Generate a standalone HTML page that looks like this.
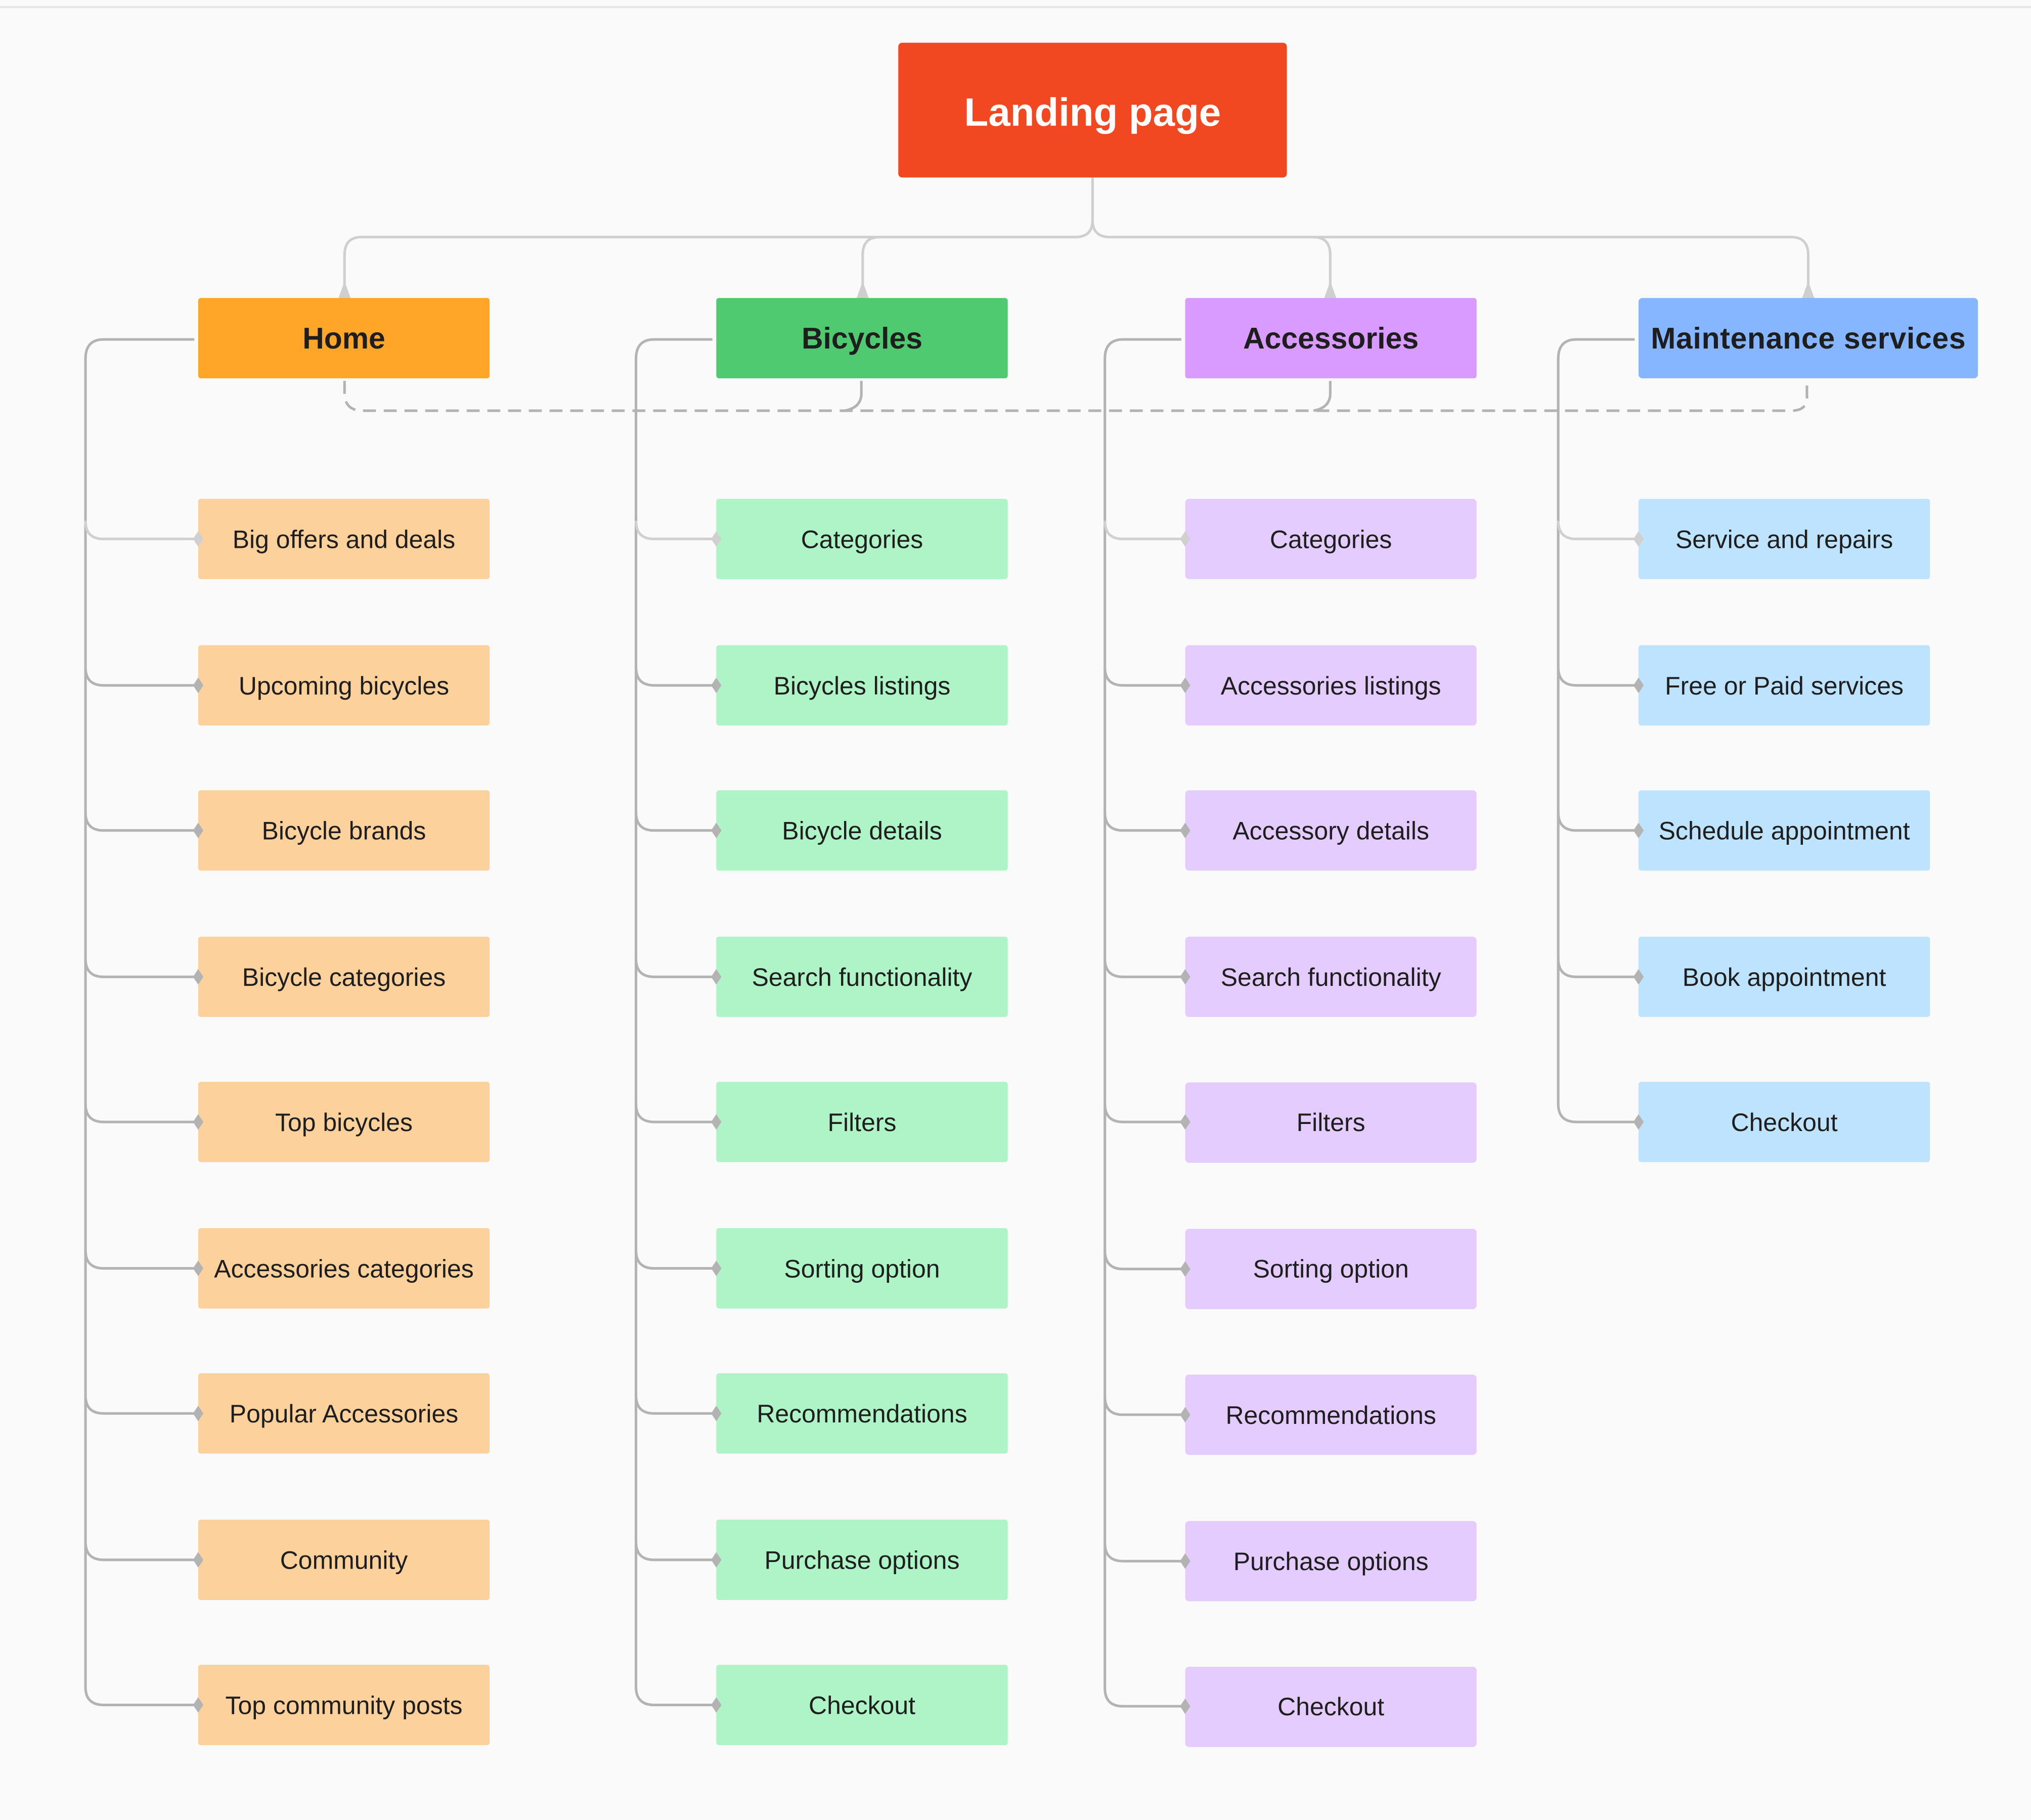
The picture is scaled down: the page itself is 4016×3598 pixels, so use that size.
<!DOCTYPE html>
<html><head><meta charset="utf-8"><style>
html,body{margin:0;padding:0;background:#fafafa;}
svg{display:block;}
text{font-family:"Liberation Sans",sans-serif;fill:#1e1e1e;}
.c{font-size:19.5px;}
.h{font-size:23px;font-weight:bold;}
</style></head><body>
<svg width="4016" height="3598" viewBox="0 0 1568 1404.8" preserveAspectRatio="none" xmlns="http://www.w3.org/2000/svg">
<rect x="0" y="0" width="1568" height="1405" fill="#fafafa"/>
<line x1="0" y1="5.5" x2="1568" y2="5.5" stroke="#e6e6e6" stroke-width="1.5"/>

<!-- top connectors -->
<g fill="none" stroke="#cfcfcf" stroke-width="2">
<path d="M843.5,137 V170 Q843.5,183 830,183 H279 Q266,183 266,197 V226"/>
<path d="M843.5,170 Q843.5,183 857,183 H1383 Q1396,183 1396,197 V226"/>
<path d="M679,183 Q666,183 666,197 V226"/>
<path d="M1014,183 Q1027,183 1027,197 V226"/>
</g>
<g fill="#cfcfcf">
<path d="M266,217 L261,231 H271 Z"/><path d="M666,217 L661,231 H671 Z"/>
<path d="M1027,217 L1022,231 H1032 Z"/><path d="M1396,217 L1391,231 H1401 Z"/>
</g>

<!-- dashed -->
<g fill="none" stroke="#b3b3b3" stroke-width="2">
<path d="M266,294 V305 Q267,317 280,317 H1383 Q1396,317 1395,305 V294" stroke-dasharray="10,6"/>
<path d="M665,294 V305 Q664,315 652,317"/>
<path d="M1027,294 V305 Q1026,315 1014,317"/>
</g>

<!-- Landing -->
<rect x="693.5" y="33" width="300" height="104" rx="3" fill="#f24822"/>
<text x="843.5" y="97" text-anchor="middle" style="font-size:30.5px;font-weight:bold;fill:#fff">Landing page</text>

<!-- Level 1 -->
<rect x="153" y="230" width="225" height="62" rx="2" fill="#ffa629"/>
<text class="h" x="265.5" y="269" text-anchor="middle">Home</text>
<rect x="553" y="230" width="225" height="62" rx="2" fill="#4fca71"/>
<text class="h" x="665.5" y="269" text-anchor="middle">Bicycles</text>
<rect x="915" y="230" width="225" height="62" rx="2" fill="#d99bff"/>
<text class="h" x="1027.5" y="269" text-anchor="middle">Accessories</text>
<rect x="1265" y="230" width="262" height="62" rx="3" fill="#85b6ff"/>
<text class="h" x="1396" y="269" text-anchor="middle" textLength="243">Maintenance services</text>

<!-- spines -->
<g fill="none" stroke="#b3b3b3" stroke-width="2">
<path d="M150,262 H80 Q66,262 66,277 V1302 Q66,1316 80,1316 H153"/>
<path d="M550,262 H505 Q491,262 491,277 V1302 Q491,1316 505,1316 H553"/>
<path d="M912,262 H867 Q853,262 853,277 V1303 Q853,1317 867,1317 H915"/>
<path d="M1262,262 H1217 Q1203,262 1203,277 V852 Q1203,866 1217,866 H1265"/>
</g>

<!-- Home children -->
<g fill="none" stroke="#b3b3b3" stroke-width="2">
<path d="M66,402 Q66,416 80,416 H153" stroke="#d0d0d0"/>
<path d="M66,515 Q66,529 80,529 H153"/><path d="M66,627 Q66,641 80,641 H153"/>
<path d="M66,740 Q66,754 80,754 H153"/><path d="M66,852 Q66,866 80,866 H153"/>
<path d="M66,965 Q66,979 80,979 H153"/><path d="M66,1077 Q66,1091 80,1091 H153"/>
<path d="M66,1190 Q66,1204 80,1204 H153"/>
<path d="M491,402 Q491,416 505,416 H553" stroke="#d0d0d0"/>
<path d="M491,515 Q491,529 505,529 H553"/><path d="M491,627 Q491,641 505,641 H553"/>
<path d="M491,740 Q491,754 505,754 H553"/><path d="M491,852 Q491,866 505,866 H553"/>
<path d="M491,965 Q491,979 505,979 H553"/><path d="M491,1077 Q491,1091 505,1091 H553"/>
<path d="M491,1190 Q491,1204 505,1204 H553"/>
<path d="M853,402 Q853,416 867,416 H915" stroke="#d0d0d0"/>
<path d="M853,515 Q853,529 867,529 H915"/><path d="M853,627 Q853,641 867,641 H915"/>
<path d="M853,740 Q853,754 867,754 H915"/><path d="M853,852 Q853,866 867,866 H915"/>
<path d="M853,965 Q853,979.5 867,979.5 H915"/><path d="M853,1078 Q853,1092 867,1092 H915"/>
<path d="M853,1191 Q853,1205 867,1205 H915"/>
<path d="M1203,402 Q1203,416 1217,416 H1265" stroke="#d0d0d0"/>
<path d="M1203,515 Q1203,529 1217,529 H1265"/><path d="M1203,627 Q1203,641 1217,641 H1265"/>
<path d="M1203,740 Q1203,754 1217,754 H1265"/>
</g>

<g class="c" text-anchor="middle">
<!-- Home -->
<g fill="#fcd19c">
<rect x="153" y="385" width="225" height="62" rx="2"/><rect x="153" y="498" width="225" height="62" rx="2"/>
<rect x="153" y="610" width="225" height="62" rx="2"/><rect x="153" y="723" width="225" height="62" rx="2"/>
<rect x="153" y="835" width="225" height="62" rx="2"/><rect x="153" y="948" width="225" height="62" rx="2"/>
<rect x="153" y="1060" width="225" height="62" rx="2"/><rect x="153" y="1173" width="225" height="62" rx="2"/>
<rect x="153" y="1285" width="225" height="62" rx="2"/>
</g>
<text x="265.5" y="423">Big offers and deals</text>
<text x="265.5" y="536">Upcoming bicycles</text>
<text x="265.5" y="648">Bicycle brands</text>
<text x="265.5" y="761">Bicycle categories</text>
<text x="265.5" y="873">Top bicycles</text>
<text x="265.5" y="986">Accessories categories</text>
<text x="265.5" y="1098">Popular Accessories</text>
<text x="265.5" y="1211">Community</text>
<text x="265.5" y="1323">Top community posts</text>
<!-- Bicycles -->
<g fill="#affbc9" style="fill:#aff4c6">
<rect x="553" y="385" width="225" height="62" rx="2"/><rect x="553" y="498" width="225" height="62" rx="2"/>
<rect x="553" y="610" width="225" height="62" rx="2"/><rect x="553" y="723" width="225" height="62" rx="2"/>
<rect x="553" y="835" width="225" height="62" rx="2"/><rect x="553" y="948" width="225" height="62" rx="2"/>
<rect x="553" y="1060" width="225" height="62" rx="2"/><rect x="553" y="1173" width="225" height="62" rx="2"/>
<rect x="553" y="1285" width="225" height="62" rx="2"/>
</g>
<text x="665.5" y="423">Categories</text>
<text x="665.5" y="536">Bicycles listings</text>
<text x="665.5" y="648">Bicycle details</text>
<text x="665.5" y="761">Search functionality</text>
<text x="665.5" y="873">Filters</text>
<text x="665.5" y="986">Sorting option</text>
<text x="665.5" y="1098">Recommendations</text>
<text x="665.5" y="1211">Purchase options</text>
<text x="665.5" y="1323">Checkout</text>
<!-- Accessories -->
<g style="fill:#e4ccff">
<rect x="915" y="385" width="225" height="62" rx="3"/><rect x="915" y="498" width="225" height="62" rx="3"/>
<rect x="915" y="610" width="225" height="62" rx="3"/><rect x="915" y="723" width="225" height="62" rx="3"/>
<rect x="915" y="835.5" width="225" height="62" rx="3"/><rect x="915" y="948.5" width="225" height="62" rx="3"/>
<rect x="915" y="1061" width="225" height="62" rx="3"/><rect x="915" y="1174" width="225" height="62" rx="3"/>
<rect x="915" y="1286.5" width="225" height="62" rx="3"/>
</g>
<text x="1027.5" y="423">Categories</text>
<text x="1027.5" y="536">Accessories listings</text>
<text x="1027.5" y="648">Accessory details</text>
<text x="1027.5" y="761">Search functionality</text>
<text x="1027.5" y="873">Filters</text>
<text x="1027.5" y="986">Sorting option</text>
<text x="1027.5" y="1099">Recommendations</text>
<text x="1027.5" y="1212">Purchase options</text>
<text x="1027.5" y="1324">Checkout</text>
<!-- Maintenance -->
<g style="fill:#bde3ff">
<rect x="1265" y="385" width="225" height="62" rx="2"/><rect x="1265" y="498" width="225" height="62" rx="2"/>
<rect x="1265" y="610" width="225" height="62" rx="2"/><rect x="1265" y="723" width="225" height="62" rx="2"/>
<rect x="1265" y="835" width="225" height="62" rx="2"/>
</g>
<text x="1377.5" y="423">Service and repairs</text>
<text x="1377.5" y="536">Free or Paid services</text>
<text x="1377.5" y="648">Schedule appointment</text>
<text x="1377.5" y="761">Book appointment</text>
<text x="1377.5" y="873">Checkout</text>
</g>

<!-- diamonds -->
<g fill="#b3b3b3">
<path d="M153,410 l-4,6 4,6 4,-6z" fill="#d0d0d0"/>
<path d="M153,523 l-4,6 4,6 4,-6z"/><path d="M153,635 l-4,6 4,6 4,-6z"/>
<path d="M153,748 l-4,6 4,6 4,-6z"/><path d="M153,860 l-4,6 4,6 4,-6z"/>
<path d="M153,973 l-4,6 4,6 4,-6z"/><path d="M153,1085 l-4,6 4,6 4,-6z"/>
<path d="M153,1198 l-4,6 4,6 4,-6z"/><path d="M153,1310 l-4,6 4,6 4,-6z"/>
<path d="M553,410 l-4,6 4,6 4,-6z" fill="#d0d0d0"/>
<path d="M553,523 l-4,6 4,6 4,-6z"/><path d="M553,635 l-4,6 4,6 4,-6z"/>
<path d="M553,748 l-4,6 4,6 4,-6z"/><path d="M553,860 l-4,6 4,6 4,-6z"/>
<path d="M553,973 l-4,6 4,6 4,-6z"/><path d="M553,1085 l-4,6 4,6 4,-6z"/>
<path d="M553,1198 l-4,6 4,6 4,-6z"/><path d="M553,1310 l-4,6 4,6 4,-6z"/>
<path d="M915,410 l-4,6 4,6 4,-6z" fill="#d0d0d0"/>
<path d="M915,523 l-4,6 4,6 4,-6z"/><path d="M915,635 l-4,6 4,6 4,-6z"/>
<path d="M915,748 l-4,6 4,6 4,-6z"/><path d="M915,860 l-4,6 4,6 4,-6z"/>
<path d="M915,973.5 l-4,6 4,6 4,-6z"/><path d="M915,1086 l-4,6 4,6 4,-6z"/>
<path d="M915,1199 l-4,6 4,6 4,-6z"/><path d="M915,1311 l-4,6 4,6 4,-6z"/>
<path d="M1265,410 l-4,6 4,6 4,-6z" fill="#d0d0d0"/>
<path d="M1265,523 l-4,6 4,6 4,-6z"/><path d="M1265,635 l-4,6 4,6 4,-6z"/>
<path d="M1265,748 l-4,6 4,6 4,-6z"/><path d="M1265,860 l-4,6 4,6 4,-6z"/>
</g>
</svg>
</body></html>
